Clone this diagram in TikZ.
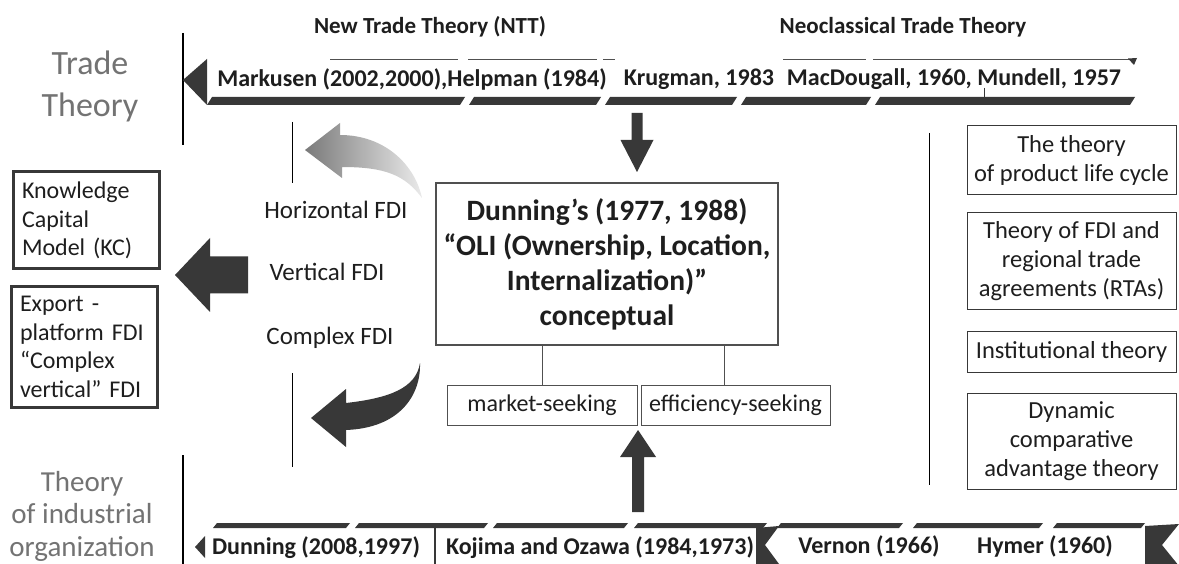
\documentclass[tikz,border=0pt]{standalone}
\usepackage{fontspec}
\setmainfont{Carlito}
\usetikzlibrary{calc}
\definecolor{dk}{HTML}{383838}
\definecolor{sidegray}{HTML}{737373}
\definecolor{txt}{HTML}{1E1E1E}
\definecolor{bord}{HTML}{505050}
\definecolor{gdark}{HTML}{7A7A7A}
\definecolor{glight}{HTML}{EAEAEA}
\begin{document}
\begin{tikzpicture}[x=1pt,y=-1pt,
  every node/.style={inner sep=0pt, text=txt},
  side/.style={text=sidegray, align=center},
  hdr/.style={font=\bfseries\fontsize{23}{27}\selectfont},
  band/.style={font=\bfseries\fontsize{24}{29}\selectfont},
  fdi/.style={font=\fontsize{25}{30}\selectfont},
  rbox/.style={draw=dk, line width=1pt, minimum width=209pt, align=center, font=\fontsize{24.5}{29}\selectfont},
  kbox/.style={draw=dk, line width=3pt, minimum width=146pt, text width=128pt, align=left, font=\fontsize{24}{28.5}\selectfont},
  sbox/.style={draw=bord, line width=0.8pt, minimum height=40pt, font=\fontsize{24}{28}\selectfont},
  thinline/.style={draw=bord, line width=0.8pt},
  axis/.style={draw=black, line width=2pt},
  sep/.style={draw=black, line width=0.8pt}
]
\useasboundingbox (0,0) rectangle (1179,564);
\fill[white] (0,0) rectangle (1179,564);

% side labels
\node[side, font=\fontsize{34}{42}\selectfont] (tt) at (90,86) {Trade\\Theory};
\node[side, font=\fontsize{29}{32.5}\selectfont] (tio) at (82,516) {Theory\\of industrial\\organization};
\draw[axis] (183,33) -- (183,145);
\draw[axis] (183,455) -- (183,564);

% headers
\node[hdr] (ntt) at (430,27) {New Trade Theory (NTT)};
\node[hdr] (nct) at (903,27) {Neoclassical Trade Theory};

% top band
\fill[dk] (183,80) -- (207,59) -- (207,105) -- cycle;
\foreach \a/\b in {207/465, 469/601, 605/737, 741/871, 875/1135}
  \fill[dk] (\a,105) -- (\a+5,97) -- (\b,97) -- (\b-5,105) -- cycle;
\foreach \a/\b in {330/458, 468/597, 603/615, 783/866, 873/1135}
  \draw[thinline] (\a,59) -- (\b,59);
\fill[dk] (1128,58.5) -- (1137,58) -- (1134,65) -- cycle;
\draw[dk, line width=0.6pt] (984,88) -- (984,103);
\node[band] (mk) at (412,79) {Markusen (2002,2000),Helpman (1984)};
\node[band] (kr) at (699,79) {Krugman, 1983};
\node[band] (md) at (954,79) {MacDougall, 1960, Mundell, 1957};

% central box
\node[draw=bord, line width=2pt, minimum width=342pt, minimum height=162pt, align=center,
      font=\bfseries\fontsize{29.5}{35}\selectfont] (oli) at (607,264)
      {Dunning’s (1977, 1988)\\“OLI (Ownership, Location,\\Internalization)”\\conceptual};

% down arrow
\coordinate (dtip) at (637,172);
\fill[dk] (dtip) -- ++(16.5,-32) -- ++(-11,0) -- ++(0,-27) -- ++(-11,0) -- ++(0,27) -- ++(-11,0) -- cycle;

% seeking boxes
\node[sbox, minimum width=190pt] (ms) at (542,405) {market-seeking};
\node[sbox, minimum width=189pt] (es) at (735.5,405) {efficiency-seeking};
\draw[thinline] (ms.north) -- (ms.north |- oli.south);
\draw[thinline] ($(es.north)+(-11.5,0)$) -- ($(es.north |- oli.south)+(-11.5,0)$);

% up arrow
\coordinate (utip) at (638,430);
\fill[dk] (utip) -- ++(18,27) -- ++(-12,0) -- ++(0,55) -- ++(-12,0) -- ++(0,-55) -- ++(-12,0) -- cycle;

% FDI labels
\node[fdi] (hf) at (336,210) {Horizontal FDI};
\node[fdi] (vf) at (327,272) {Vertical FDI};
\node[fdi] (cf) at (330,338) {Complex FDI};
\draw[sep] (292,122) -- (292,183);
\draw[sep] (292,373) -- (292,467);

% curved arrows
\shade[left color=gdark, right color=glight]
  (305,150) -- (340,123) -- (340,135) .. controls (385,135) and (415,165) .. (422,198)
  .. controls (405,175) and (385,167) .. (342,167) -- (342,178) -- cycle;
\fill[dk] (311,418) -- (346,389) -- (346,403) .. controls (390,398) and (416,388) .. (420,363)
  .. controls (421,395) and (400,428) .. (346,430) -- (346,447) -- cycle;

% left big arrow
\coordinate (ltip) at (175,275);
\fill[dk] (ltip) -- ++(35,-37) -- ++(0,18.5) -- ++(38,0) -- ++(0,37) -- ++(-38,0) -- ++(0,18.5) -- cycle;

% left boxes
\node[kbox, minimum height=97pt] (kc) at (86,220.5) {Knowledge\\Capital\\Model (KC)};
\node[kbox, minimum height=120pt] (ep) at (84,347) {Export -\\platform FDI\\“Complex\\vertical” FDI};

% right side
\draw[sep] (929,133) -- (929,485);
\node[rbox, minimum height=69pt] (plc) at (1071.5,160.5) {The theory\\of product life cycle};
\node[rbox, minimum height=97pt] (rta) at (1071.5,261.5) {Theory of FDI and\\regional trade\\agreements (RTAs)};
\node[rbox, minimum height=40pt] (inst) at (1071.5,352) {Institutional theory};
\node[rbox, minimum height=96pt] (dca) at (1071.5,441) {Dynamic\\comparative\\advantage theory};

% bottom band
\foreach \a/\b in {213/350, 355/488, 493/628, 634/767, 777/903, 913/1043, 1053/1145}
  \fill[dk] (\a,528) -- (\a+4,523) -- (\b,523) -- (\b-4,528) -- cycle;
\fill[dk] (195,547) -- (205,536) -- (205,558) -- cycle;
\draw[dk, line width=1.5pt] (435,528) -- (435,564);
\fill[dk] (756,528) -- (779,526) -- (765,545) -- (779,564) -- (756,564) -- cycle;
\fill[dk] (1145,526) -- (1179,524) -- (1162,545) -- (1179,566) -- (1145,566) -- cycle;
\node[band] (dn) at (316,548) {Dunning (2008,1997)};
\node[band] (ko) at (600,548) {Kojima and Ozawa (1984,1973)};
\node[band] (ve) at (869,546) {Vernon (1966)};
\node[band] (hy) at (1045,546) {Hymer (1960)};
\end{tikzpicture}
\end{document}
